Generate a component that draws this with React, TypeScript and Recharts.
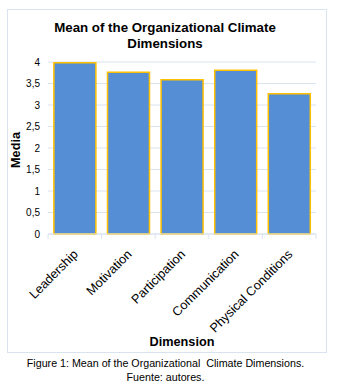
import React from 'react';
import { BarChart, Bar, XAxis, YAxis, CartesianGrid } from 'recharts';

const categories = ['Leadership', 'Motivation', 'Participation', 'Communication', 'Physical Conditions'];
const means = [3.98, 3.76, 3.59, 3.81, 3.26];
const yTicks = [0, 0.5, 1, 1.5, 2, 2.5, 3, 3.5, 4];
const titleLines = ['Mean of the Organizational Climate', 'Dimensions'];
const yTitle = 'Media';
const xTitle = 'Dimension';
const captionLines = ['Figure 1: Mean of the Organizational  Climate Dimensions.', 'Fuente: autores.'];

const data = categories.map((c, i) => ({ name: c, value: means[i] }));

const FONT = '"Liberation Sans", Arial, sans-serif';

const XTick = (props: any) => {
  const { x, y, payload, index, width } = props;
  const half = width / categories.length / 2;
  const last = index === categories.length - 1;
  const ax = x + 4;
  const ay = y + 21;
  return (
    <g>
      <line x1={x - half} x2={x - half} y1={y} y2={y + 5} stroke="#d9e4f1" strokeWidth={1} />
      {last && <line x1={x + half} x2={x + half} y1={y} y2={y + 5} stroke="#d9e4f1" strokeWidth={1} />}
      <text
        x={ax}
        y={ay}
        textAnchor="end"
        transform={`rotate(-45 ${ax} ${ay})`}
        fontSize={12.7}
        fontFamily={FONT}
        fill="#000"
      >
        {payload.value}
      </text>
    </g>
  );
};

export default function App() {
  return (
    <div style={{ position: 'absolute', left: 0, top: 0, width: 340, height: 387, fontFamily: FONT, background: '#fff' }}>
      <div style={{ position: 'absolute', left: 7, top: 9, width: 320, height: 344, boxSizing: 'border-box', border: '1px solid #d9e3ef' }} />
      <div style={{ position: 'absolute', left: 5, top: 19.5, width: 320, textAlign: 'center', fontWeight: 'bold', fontSize: 13.3, lineHeight: '16px', color: '#000' }}>
        {titleLines[0]}
        <br />
        {titleLines[1]}
      </div>
      <div style={{ position: 'absolute', left: 0, top: 0 }}>
        <BarChart width={340} height={387} data={data} margin={{ top: 62, right: 24, left: 8, bottom: 53 }} barCategoryGap="11%">
          <CartesianGrid vertical={false} stroke="#d9e4f1" strokeWidth={1} />
          <XAxis
            dataKey="name"
            height={100}
            interval={0}
            tickLine={false}
            tickSize={0}
            tickMargin={0}
            axisLine={{ stroke: '#d9e4f1' }}
            tick={<XTick />}
          />
          <YAxis
            width={40}
            domain={[0, 4]}
            ticks={yTicks}
            interval={0}
            axisLine={false}
            tickLine={false}
            tickFormatter={(v: number) => String(v).replace('.', ',')}
            tick={{ fontSize: 10, fill: '#000', fontFamily: FONT }}
          />
          <Bar dataKey="value" fill="#558ed5" stroke="#ffc000" strokeWidth={1.5} isAnimationActive={false} />
        </BarChart>
      </div>
      <div style={{ position: 'absolute', left: 1, top: 141, width: 30, height: 18, transformOrigin: '15px 9px', transform: 'rotate(-90deg)', textAlign: 'center', fontWeight: 'bold', fontSize: 12.7, lineHeight: '18px', color: '#000', whiteSpace: 'nowrap', display: 'flex', justifyContent: 'center' }}>
        {yTitle}
      </div>
      <div style={{ position: 'absolute', left: 132, top: 335, width: 100, textAlign: 'center', fontWeight: 'bold', fontSize: 12.7, lineHeight: '15px', color: '#000' }}>
        {xTitle}
      </div>
      <div style={{ position: 'absolute', left: 0, top: 355.5, width: 331, textAlign: 'center', fontSize: 10.7, lineHeight: '14px', color: '#000', whiteSpace: 'pre' }}>
        {captionLines[0]}
        <br />
        {captionLines[1]}
      </div>
    </div>
  );
}
